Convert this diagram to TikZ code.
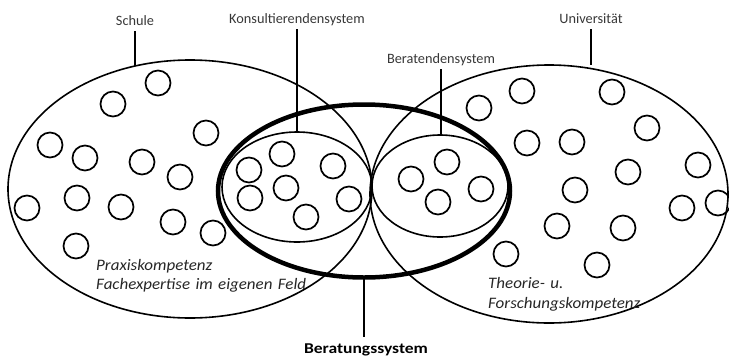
\documentclass[tikz,border=0pt]{standalone}
\usepackage{fontspec}
\setmainfont{Carlito}
\newfontfamily\notefont[FakeStretch=1.06,WordSpace=1.4]{Carlito}
\newfontfamily\boldlabelfont[FakeStretch=1.17]{Carlito}
\usetikzlibrary{shapes.geometric}
\begin{document}
\begin{tikzpicture}[x=1pt,y=-1pt,
  dot/.style={circle,draw,line width=1.7pt,minimum size=25pt,inner sep=0pt},
  region/.style={ellipse,draw,line width=1.6pt,inner sep=0pt},
  bigregion/.style={ellipse,draw,line width=4.5pt,inner sep=0pt},
  lbl/.style={font=\fontsize{14.3}{17}\selectfont,text=black!78,inner sep=6pt,text height=9pt,text depth=0pt},
  note/.style={font=\fontsize{16}{19}\notefont\itshape,text=black!85,inner sep=0pt,anchor=base west},
  lead/.style={line width=1.6pt}]
\useasboundingbox (0,0) rectangle (729,357);
% systems
\node[region,minimum width=364pt,minimum height=258pt] (schule) at (190,189) {};
\node[region,minimum width=358pt,minimum height=258pt] (uni) at (549,194) {};
\node[region,minimum width=150pt,minimum height=110pt] (kons) at (297,187) {};
\node[region,minimum width=136pt,minimum height=102pt] (berat) at (440,186) {};
\node[bigregion,minimum width=292pt,minimum height=173pt] (beratung) at (364,191) {};
% circles in Schule
\foreach \i/\p in {1/{158,83},2/{113,104},3/{50,145},4/{85,158},5/{206,133},6/{142,162},7/{180,177},8/{27,208},9/{77,198},10/{121,207},11/{173,222},12/{213,233},13/{76,246}}
  \node[dot] (s\i) at (\p) {};
% circles in Konsultierendensystem
\foreach \i/\p in {1/{249,170},2/{282,154},3/{333,166},4/{250,198},5/{286,188},6/{306,217},7/{349,199}}
  \node[dot] (k\i) at (\p) {};
% circles in Beratendensystem
\foreach \i/\p in {1/{447,162},2/{411,179},3/{438,202},4/{481,189}}
  \node[dot] (b\i) at (\p) {};
% circles in Universitaet
\foreach \i/\p in {1/{479,108},2/{522,91},3/{612,92},4/{647,128},5/{527,143},6/{572,142},7/{698,165},8/{628,172},9/{575,190},10/{557,226},11/{623,228},12/{682,208},13/{718,203},14/{506,254},15/{597,265}}
  \node[dot] (u\i) at (\p) {};
% labels
\node[lbl,anchor=base] (tSchule) at (135,25) {Schule};
\node[lbl,anchor=base] (tKons) at (297,23) {Konsultierendensystem};
\node[lbl,anchor=base] (tBerat) at (441,63) {Beratendensystem};
\node[lbl,anchor=base] (tUni) at (591,23) {Universität};
\node[lbl,anchor=base,font=\fontsize{15}{18}\boldlabelfont\bfseries,text=black,text height=10pt] (tBeratung) at (366,353) {Beratungssystem};
% leader end points on the ellipses
\coordinate (eSchule) at (135,66);
\coordinate (eKons) at (297,132);
\coordinate (eBerat) at (441,135);
\coordinate (eUni) at (591,65);
\draw[lead] (tSchule.south) -- (eSchule);
\draw[lead] (tKons.south) -- (eKons);
\draw[lead] (tBerat.south) -- (eBerat);
\draw[lead] (tUni.south) -- (eUni);
\draw[lead] (tBeratung.north -| beratung.south) -- (beratung.south);
% notes
\node[note] (n1) at (96,270) {Praxiskompetenz};
\node[note] (n2) at (96,289) {Fachexpertise im eigenen Feld};
\node[note] (n3) at (488,288) {Theorie- u.};
\node[note] (n4) at (488,308) {Forschungskompetenz};
\end{tikzpicture}
\end{document}
